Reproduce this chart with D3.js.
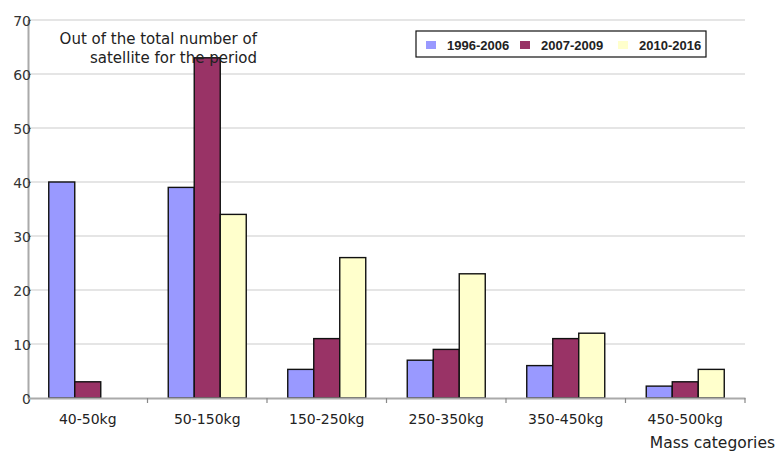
<!DOCTYPE html>
<html>
<head>
<meta charset="utf-8">
<script src="https://cdn.jsdelivr.net/npm/d3@7"></script>
<style>
  body { margin: 0; background: #fff; }
  svg { display: block; }
</style>
</head>
<body>
<svg id="chart" width="777" height="453"></svg>
<script>
// Mass categories and share of satellites per period
const categories = ["40-50kg", "50-150kg", "150-250kg", "250-350kg", "350-450kg", "450-500kg"];
const periods = ["1996-2006", "2007-2009", "2010-2016"];
const values1996_2006 = [40, 39, 5.3, 7, 6, 2.2];
const values2007_2009 = [3, 63, 11, 9, 11, 3];
const values2010_2016 = [0, 34, 26, 23, 12, 5.3];
const yTicks = [0, 10, 20, 30, 40, 50, 60, 70];
const colors = ["#9999FF", "#993366", "#FFFFCC"];

const series = [values1996_2006, values2007_2009, values2010_2016];
const mainFont = "DejaVu Sans, sans-serif";
const legendFont = "Liberation Sans, Arial, sans-serif";

const svg = d3.select("#chart");
const margin = { left: 28, right: 32, top: 20, bottom: 55 };
const W = 777, H = 453;

const x = d3.scaleBand().domain(categories).range([margin.left, W - margin.right]).paddingInner(0).paddingOuter(0);
const barW = 26;
const xs = d3.scaleBand().domain(periods).range([0, barW * 3]);
const y = d3.scaleLinear().domain([0, 70]).range([H - margin.bottom, margin.top]);

// gridlines
svg.append("g").selectAll("line").data(yTicks.filter(d => d > 0)).join("line")
  .attr("x1", margin.left).attr("x2", W - margin.right)
  .attr("y1", d => y(d)).attr("y2", d => y(d))
  .attr("stroke", "#dcdcdc").attr("stroke-width", 1.5);

// bars
const groups = svg.append("g").selectAll("g").data(categories).join("g")
  .attr("transform", c => `translate(${x(c) + (x.bandwidth() - barW * 3) / 2},0)`);

groups.selectAll("rect")
  .data((c, i) => periods.map((p, k) => ({ p, k, v: series[k][i] })).filter(d => d.v > 0))
  .join("rect")
  .attr("x", d => xs(d.p))
  .attr("width", xs.bandwidth())
  .attr("y", d => y(d.v))
  .attr("height", d => y(0) - y(d.v))
  .attr("fill", d => colors[d.k])
  .attr("stroke", "#111")
  .attr("stroke-width", 1.4);

// y axis
const yAxis = svg.append("g")
  .attr("transform", `translate(${margin.left},0)`)
  .call(d3.axisLeft(y).tickValues(yTicks).tickSize(3).tickSizeOuter(0));
yAxis.select(".domain").attr("stroke", "#aaa").attr("stroke-width", 2);
yAxis.selectAll(".tick line").attr("stroke", "#888").attr("transform", "translate(3,0)");
yAxis.selectAll(".tick text").attr("x", 3).attr("dy", "0.36em")
  .style("font-size", "14px").style("font-family", mainFont).attr("fill", "#333");

// x axis
const xAxis = svg.append("g")
  .attr("transform", `translate(0,${y(0)})`)
  .call(d3.axisBottom(x).tickSize(0).tickSizeOuter(0));
xAxis.select(".domain").attr("stroke", "#aaa").attr("stroke-width", 2);
xAxis.selectAll(".tick text").attr("dy", 0).attr("y", 26)
  .style("font-size", "14px").style("font-family", mainFont).attr("fill", "#222");
// category boundary ticks
svg.append("g").selectAll("line").data(categories).join("line")
  .attr("x1", c => x(c) + x.bandwidth())
  .attr("x2", c => x(c) + x.bandwidth())
  .attr("y1", y(0)).attr("y2", y(0) + 5)
  .attr("stroke", "#888").attr("stroke-width", 1.2);

// axis title
svg.append("text").attr("x", 775).attr("y", 448).attr("text-anchor", "end")
  .style("font-size", "15.5px").style("font-family", mainFont).attr("fill", "#222")
  .text("Mass categories");

// annotation
svg.append("text").attr("x", 257).attr("y", 44).attr("text-anchor", "end")
  .style("font-size", "15px").style("font-family", mainFont).attr("fill", "#222")
  .text("Out of the total number of");
svg.append("text").attr("x", 257).attr("y", 63).attr("text-anchor", "end")
  .style("font-size", "15px").style("font-family", mainFont).attr("fill", "#222")
  .text("satellite for the period");

// legend
const lg = svg.append("g").attr("transform", "translate(416,31)");
lg.append("rect").attr("width", 290).attr("height", 26).attr("fill", "#fff")
  .attr("stroke", "#111").attr("stroke-width", 1.2);
const lx = [10, 104, 202];
periods.forEach((p, k) => {
  lg.append("rect").attr("x", lx[k]).attr("y", 10).attr("width", 10).attr("height", 8).attr("fill", colors[k]);
  lg.append("text").attr("x", lx[k] + 21).attr("y", 18.5)
    .style("font-size", "13px").style("font-weight", "bold").style("font-family", legendFont)
    .attr("fill", "#222").text(p);
});
</script>
</body>
</html>
